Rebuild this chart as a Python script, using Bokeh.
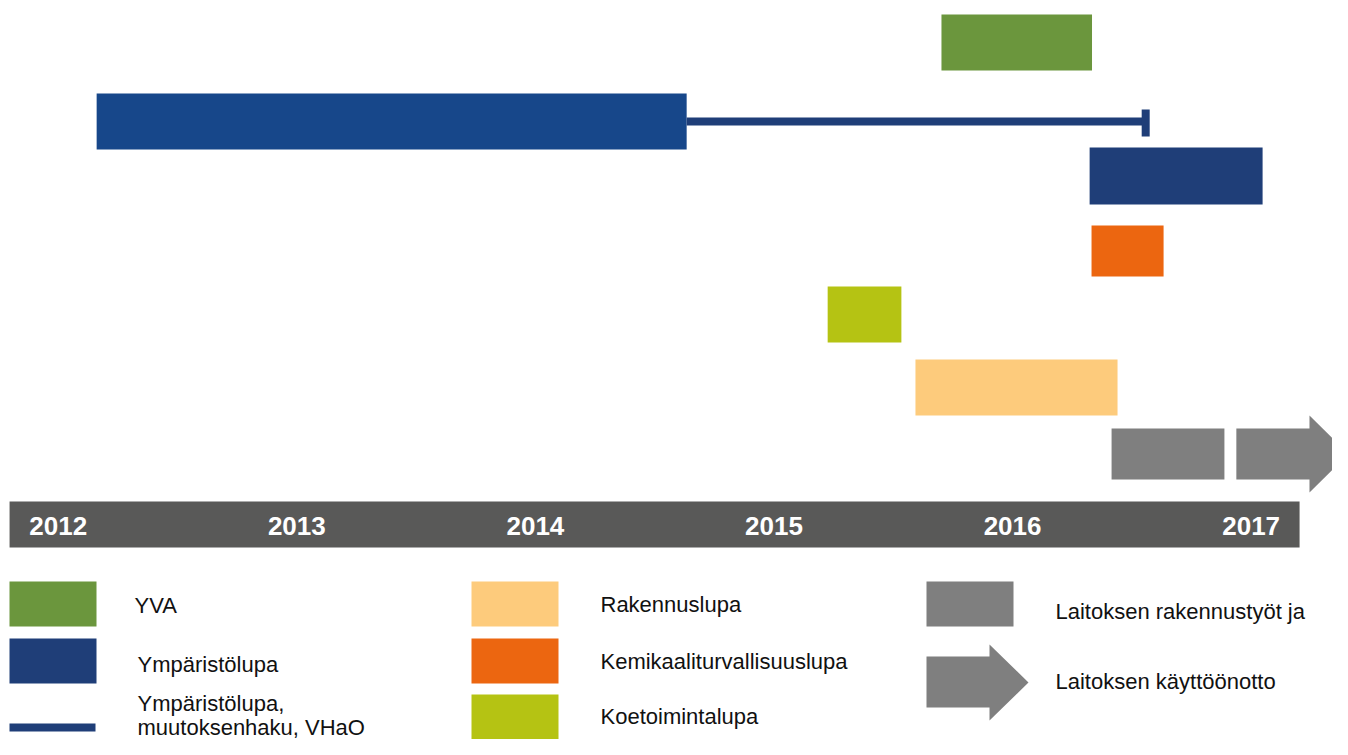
from bokeh.plotting import figure
from bokeh.models import Range1d
from bokeh.core.properties import value
from bokeh.embed import file_html
from bokeh.resources import INLINE

# ---------------- data (years) ----------------
years = [2012, 2013, 2014, 2015, 2016, 2017]
year_labels = ["2012", "2013", "2014", "2015", "2016", "2017"]

task_names = ["YVA", "Ympäristölupa", "Ympäristölupa (2)", "Kemikaaliturvallisuuslupa",
              "Koetoimintalupa", "Rakennuslupa", "Laitoksen rakennustyöt"]
task_start = [2015.702, 2012.161, 2016.323, 2016.331, 2015.225, 2015.593, 2016.415]
task_end = [2016.333, 2014.634, 2017.048, 2016.633, 2015.534, 2016.440, 2016.888]

appeal_start = 2014.634   # Ympäristölupa, muutoksenhaku, VHaO
appeal_end = 2016.558
startup_start = 2016.938  # Laitoksen käyttöönotto (arrow)
startup_end = 2017.408
timeline_start = 2011.796
timeline_end = 2017.203

legend_col1 = ["YVA", "Ympäristölupa", "Ympäristölupa,", "muutoksenhaku, VHaO"]
legend_col2 = ["Rakennuslupa", "Kemikaaliturvallisuuslupa", "Koetoimintalupa"]
legend_col3 = ["Laitoksen rakennustyöt ja", "Laitoksen käyttöönotto"]

# ---------------- styles / layout ----------------
GREEN = "#6B963D"
BLUE = "#17478A"
NAVY = "#1F3E78"
ORANGE = "#EC6610"
LIME = "#B5C313"
SAND = "#FDCB7C"
GRAY = "#7F7F7F"
BAND = "#595958"
TXT = "#111111"
FONT = "Liberation Sans"

task_colors = [GREEN, BLUE, NAVY, ORANGE, LIME, SAND, GRAY]
row_top = [14, 93, 147, 225, 286, 359, 428]
row_bot = [70, 149, 204, 276, 342, 415, 479]

W, H = 1332, 739
PX_PER_YEAR = 238.59

p = figure(width=W, height=H, output_backend="svg", toolbar_location=None,
           x_range=Range1d(2011.758, 2017.341), y_range=Range1d(H, 0),
           min_border=0, background_fill_color="white", border_fill_color="white")
p.extra_x_ranges = {"px": Range1d(0, W)}
p.axis.visible = False
p.grid.visible = False
p.outline_line_color = None

# task bars
p.quad(left=task_start, right=task_end, top=row_top, bottom=row_bot,
       fill_color=task_colors, line_color=None)

# appeal line with end cap
p.segment(x0=[appeal_start], y0=[121], x1=[appeal_end], y1=[121],
          line_color=NAVY, line_width=8, line_cap="butt")
p.segment(x0=[appeal_end], y0=[109], x1=[appeal_end], y1=[136],
          line_color=NAVY, line_width=8, line_cap="butt")

# start-up arrow
head = 32 / PX_PER_YEAR
hb = startup_end - head - 7 / PX_PER_YEAR
p.patch(x=[startup_start, hb, hb, startup_end, hb, hb, startup_start],
        y=[428, 428, 415, 453.5, 492, 479, 479],
        fill_color=GRAY, line_color=None)

# timeline band
p.quad(left=[timeline_start], right=[timeline_end], top=[501], bottom=[547],
       fill_color=BAND, line_color=None)
p.text(x=years, y=[525] * len(years), text=year_labels, text_color="white",
       text_font=value(FONT), text_font_style="bold", text_font_size=value("26px"),
       text_align="center", text_baseline="alphabetic")

# ---------------- legend (pixel x coordinates) ----------------
p.quad(left=[9, 9, 471, 471, 471, 926], right=[96, 96, 558, 558, 558, 1013],
       top=[581, 638, 581, 638, 694, 581], bottom=[626, 683, 626, 683, 739, 626],
       fill_color=[GREEN, NAVY, SAND, ORANGE, LIME, GRAY], line_color=None,
       x_range_name="px")
p.quad(left=[9], right=[95], top=[723], bottom=[731], fill_color=NAVY,
       line_color=None, x_range_name="px")
p.patch(x=[926, 989, 989, 1028, 989, 989, 926],
        y=[656, 656, 644, 682, 720, 707, 707],
        fill_color=GRAY, line_color=None, x_range_name="px")

p.text(x=[134, 137, 137, 137], y=[605, 664, 703, 727], text=legend_col1,
       text_color=TXT, text_font=value(FONT), text_font_size=value("22px"),
       text_baseline="alphabetic", x_range_name="px")
p.text(x=[600, 600, 600], y=[604, 661, 716], text=legend_col2,
       text_color=TXT, text_font=value(FONT), text_font_size=value("22px"),
       text_baseline="alphabetic", x_range_name="px")
p.text(x=[1055, 1055], y=[611, 681], text=legend_col3,
       text_color=TXT, text_font=value(FONT), text_font_size=value("22px"),
       text_baseline="alphabetic", x_range_name="px")

open("out.html", "w").write(file_html(p, INLINE))
